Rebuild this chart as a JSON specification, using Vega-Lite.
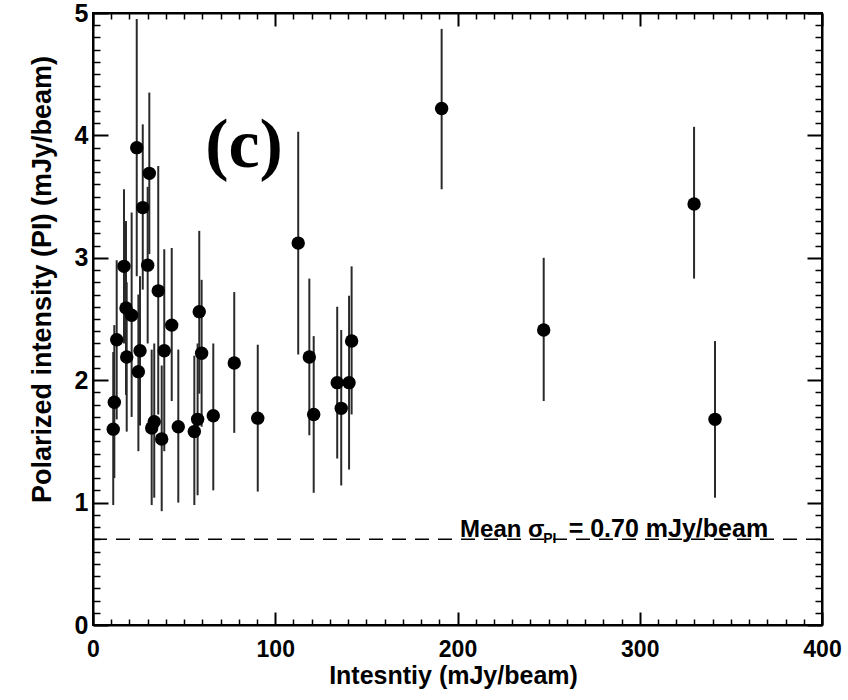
{
  "$schema": "https://vega.github.io/schema/vega-lite/v6.json",
  "width": 729,
  "height": 612,
  "autosize": {"type": "none"},
  "padding": {"left": 93, "top": 13, "right": 26, "bottom": 75},
  "background": "white",
  "config": {
    "view": {"stroke": "black", "strokeWidth": 2},
    "axis": {"grid": false, "domainColor": "black", "domainWidth": 2, "labelColor": "black", "titleColor": "black", "labelFont": "Liberation Sans", "titleFont": "Liberation Sans", "labelFontWeight": "bold", "titleFontWeight": "bold"}
  },
  "data": {
    "values": [
      {"I": 11.1, "PI": 1.60, "lo": 0.98, "hi": 2.23},
      {"I": 11.7, "PI": 1.82, "lo": 1.20, "hi": 2.45},
      {"I": 13.0, "PI": 2.33, "lo": 1.68, "hi": 2.98},
      {"I": 17.0, "PI": 2.93, "lo": 2.30, "hi": 3.56},
      {"I": 18.1, "PI": 2.59, "lo": 1.88, "hi": 3.30},
      {"I": 18.5, "PI": 2.19, "lo": 1.58, "hi": 2.80},
      {"I": 21.2, "PI": 2.53, "lo": 1.70, "hi": 3.37},
      {"I": 24.0, "PI": 3.90, "lo": 2.85, "hi": 4.95},
      {"I": 24.9, "PI": 2.07, "lo": 1.42, "hi": 2.70},
      {"I": 25.8, "PI": 2.24, "lo": 1.63, "hi": 2.85},
      {"I": 27.3, "PI": 3.41, "lo": 2.74, "hi": 4.09},
      {"I": 30.0, "PI": 2.94, "lo": 2.30, "hi": 3.58},
      {"I": 30.9, "PI": 3.69, "lo": 3.03, "hi": 4.35},
      {"I": 32.2, "PI": 1.61, "lo": 0.98, "hi": 2.25},
      {"I": 33.6, "PI": 1.66, "lo": 1.04, "hi": 2.30},
      {"I": 35.8, "PI": 2.73, "lo": 1.72, "hi": 3.75},
      {"I": 37.7, "PI": 1.52, "lo": 0.93, "hi": 2.12},
      {"I": 39.1, "PI": 2.24, "lo": 1.42, "hi": 3.07},
      {"I": 43.2, "PI": 2.45, "lo": 1.83, "hi": 3.08},
      {"I": 46.8, "PI": 1.62, "lo": 1.00, "hi": 2.25},
      {"I": 55.6, "PI": 1.58, "lo": 0.98, "hi": 2.20},
      {"I": 57.4, "PI": 1.68, "lo": 1.06, "hi": 2.30},
      {"I": 58.3, "PI": 2.56, "lo": 1.89, "hi": 3.22},
      {"I": 59.6, "PI": 2.22, "lo": 1.62, "hi": 2.82},
      {"I": 66.0, "PI": 1.71, "lo": 1.10, "hi": 2.30},
      {"I": 77.5, "PI": 2.14, "lo": 1.57, "hi": 2.72},
      {"I": 90.4, "PI": 1.69, "lo": 1.09, "hi": 2.29},
      {"I": 112.6, "PI": 3.12, "lo": 2.21, "hi": 4.03},
      {"I": 118.7, "PI": 2.19, "lo": 1.55, "hi": 2.83},
      {"I": 121.1, "PI": 1.72, "lo": 1.08, "hi": 2.36},
      {"I": 134.0, "PI": 1.98, "lo": 1.36, "hi": 2.60},
      {"I": 136.2, "PI": 1.77, "lo": 1.14, "hi": 2.41},
      {"I": 140.5, "PI": 1.98, "lo": 1.27, "hi": 2.69},
      {"I": 141.9, "PI": 2.32, "lo": 1.72, "hi": 2.93},
      {"I": 191.3, "PI": 4.22, "lo": 3.56, "hi": 4.87},
      {"I": 247.3, "PI": 2.41, "lo": 1.83, "hi": 3.00},
      {"I": 329.8, "PI": 3.44, "lo": 2.83, "hi": 4.07},
      {"I": 341.3, "PI": 1.68, "lo": 1.04, "hi": 2.32}
    ]
  },
  "resolve": {"axis": {"x": "independent", "y": "independent"}},
  "layer": [
    {
      "mark": {"type": "rule", "color": "#2a2a2a", "strokeWidth": 2},
      "encoding": {
        "x": {"field": "I", "type": "quantitative",
          "scale": {"domain": [0, 400], "nice": false, "zero": false},
          "axis": {"orient": "bottom",
            "values": [0,10,20,30,40,50,60,70,80,90,100,110,120,130,140,150,160,170,180,190,200,210,220,230,240,250,260,270,280,290,300,310,320,330,340,350,360,370,380,390,400],
            "tickColor": "#000000", "tickOpacity": 1,
            "tickSize": {"condition": {"test": "datum.value % 100 === 0", "value": -13}, "value": -6},
            "tickWidth": {"condition": {"test": "datum.value % 100 === 0", "value": 2}, "value": 1.5},
            "labelExpr": "datum.value % 100 === 0 ? datum.label : ''",
            "labelPadding": 26, "labelFontSize": 23, "labelFlush": false,
            "title": "Intesntiy (mJy/beam)", "titleFontSize": 25, "titleBaseline": "alphabetic", "titleAlign": "center", "titleX": 360, "titleY": 58}},
        "y": {"field": "lo", "type": "quantitative",
          "scale": {"domain": [0, 5], "nice": false, "zero": false},
          "axis": {"orient": "left",
            "values": [0,0.1,0.2,0.3,0.4,0.5,0.6,0.7,0.8,0.9,1,1.1,1.2,1.3,1.4,1.5,1.6,1.7,1.8,1.9,2,2.1,2.2,2.3,2.4,2.5,2.6,2.7,2.8,2.9,3,3.1,3.2,3.3,3.4,3.5,3.6,3.7,3.8,3.9,4,4.1,4.2,4.3,4.4,4.5,4.6,4.7,4.8,4.9,5],
            "tickColor": "#000000", "tickOpacity": 1,
            "tickSize": {"condition": {"test": "abs(datum.value - round(datum.value)) < 0.001", "value": -15}, "value": -7},
            "tickWidth": {"condition": {"test": "abs(datum.value - round(datum.value)) < 0.001", "value": 2}, "value": 1.5},
            "labelExpr": "abs(datum.value - round(datum.value)) < 0.001 ? format(datum.value, 'd') : ''",
            "labelPadding": 20, "labelFontSize": 25, "labelFlush": false,
            "title": "Polarized intensity (PI) (mJy/beam)", "titleFontSize": 27, "titleAngle": -90, "titleBaseline": "alphabetic", "titleAlign": "center", "titleX": -43, "titleY": 266}},
        "y2": {"field": "hi"}
      }
    },
    {
      "mark": {"type": "circle", "color": "black", "opacity": 1, "size": 180},
      "encoding": {
        "x": {"field": "I", "type": "quantitative",
          "axis": {"orient": "top",
            "values": [0,10,20,30,40,50,60,70,80,90,100,110,120,130,140,150,160,170,180,190,200,210,220,230,240,250,260,270,280,290,300,310,320,330,340,350,360,370,380,390,400],
            "tickColor": "#000000", "tickOpacity": 1,
            "tickSize": {"condition": {"test": "datum.value % 100 === 0", "value": -13}, "value": -6},
            "tickWidth": {"condition": {"test": "datum.value % 100 === 0", "value": 2}, "value": 1.5},
            "labels": false, "title": null}},
        "y": {"field": "PI", "type": "quantitative",
          "axis": {"orient": "right",
            "values": [0,0.1,0.2,0.3,0.4,0.5,0.6,0.7,0.8,0.9,1,1.1,1.2,1.3,1.4,1.5,1.6,1.7,1.8,1.9,2,2.1,2.2,2.3,2.4,2.5,2.6,2.7,2.8,2.9,3,3.1,3.2,3.3,3.4,3.5,3.6,3.7,3.8,3.9,4,4.1,4.2,4.3,4.4,4.5,4.6,4.7,4.8,4.9,5],
            "tickColor": "#000000", "tickOpacity": 1,
            "tickSize": {"condition": {"test": "abs(datum.value - round(datum.value)) < 0.001", "value": -15}, "value": -7},
            "tickWidth": {"condition": {"test": "abs(datum.value - round(datum.value)) < 0.001", "value": 2}, "value": 1.5},
            "labels": false, "title": null}}
      }
    },
    {
      "data": {"values": [{"lab": "mean"}]},
      "mark": {"type": "rule", "color": "black", "strokeWidth": 1.5, "strokeDash": [14, 9]},
      "encoding": {
        "x": {"datum": 0, "axis": null},
        "x2": {"datum": 400},
        "y": {"datum": 0.7, "axis": null}
      }
    },
    {
      "data": {"values": [{"lab": "c"}]},
      "mark": {"type": "text", "font": "Liberation Serif", "fontWeight": "bold", "fontSize": 70, "align": "center", "baseline": "alphabetic", "color": "black"},
      "encoding": {
        "x": {"datum": 82.9, "axis": null},
        "y": {"datum": 3.74, "axis": null},
        "text": {"value": "(c)"}
      }
    },
    {
      "data": {"values": [{"lab": "mean"}]},
      "mark": {"type": "text", "font": "Liberation Sans", "fontWeight": "bold", "fontSize": 24, "align": "left", "baseline": "alphabetic", "color": "black"},
      "encoding": {
        "x": {"datum": 201.4, "axis": null},
        "y": {"datum": 0.72, "axis": null},
        "text": {"value": "Mean σ"}
      }
    },
    {
      "data": {"values": [{"lab": "sub"}]},
      "mark": {"type": "text", "font": "Liberation Sans", "fontWeight": "bold", "fontSize": 14, "align": "left", "baseline": "alphabetic", "color": "black"},
      "encoding": {
        "x": {"datum": 247, "axis": null},
        "y": {"datum": 0.67, "axis": null},
        "text": {"value": "PI"}
      }
    },
    {
      "data": {"values": [{"lab": "val"}]},
      "mark": {"type": "text", "font": "Liberation Sans", "fontWeight": "bold", "fontSize": 25, "align": "left", "baseline": "alphabetic", "color": "black"},
      "encoding": {
        "x": {"datum": 261, "axis": null},
        "y": {"datum": 0.72, "axis": null},
        "text": {"value": "= 0.70 mJy/beam"}
      }
    }
  ]
}
